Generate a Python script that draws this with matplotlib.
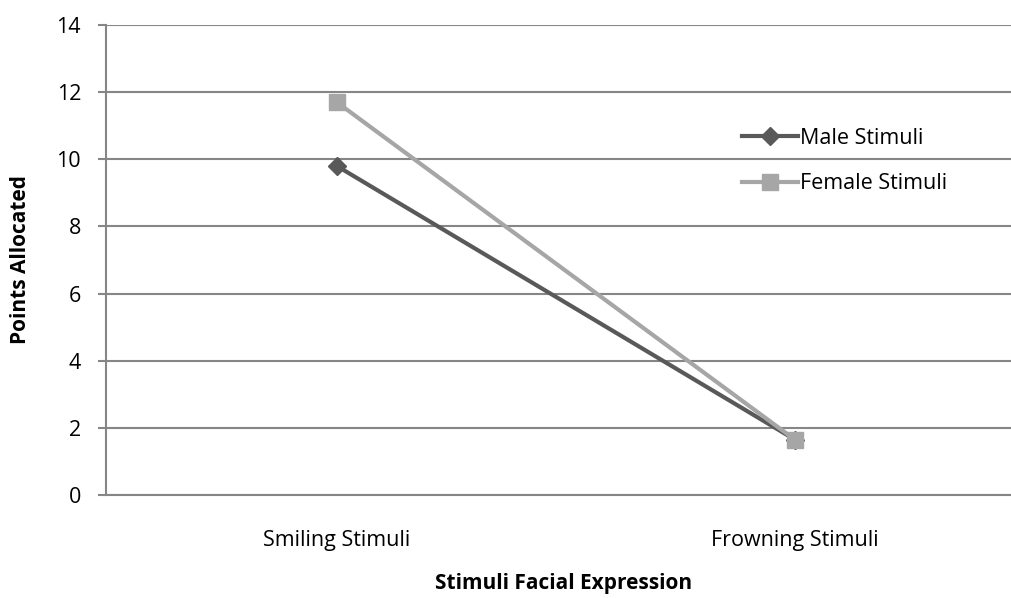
import matplotlib
matplotlib.use("Agg")
import matplotlib.pyplot as plt

categories = ["Smiling Stimuli", "Frowning Stimuli"]
male = [9.8, 1.65]
female = [11.7, 1.65]
yticks = [0, 2, 4, 6, 8, 10, 12, 14]

plt.rcParams['font.family'] = ['Open Sans', 'DejaVu Sans']

W, H = 1012, 598
fig = plt.figure(figsize=(W / 100, H / 100), dpi=100)
left, right, top, bottom = 106, 1012, 25, 495
ax = fig.add_axes([left / W, 1 - bottom / H, (right - left) / W, (bottom - top) / H])

x = list(range(len(categories)))
ax.plot(x, male, color='#595959', lw=3.0, marker='D', markersize=9, label='Male Stimuli', zorder=3)
ax.plot(x, female, color='#A6A6A6', lw=3.0, marker='s', markersize=11, label='Female Stimuli', zorder=3)

FS = 15.5
ax.set_xlim(-0.504, 1.474)
ax.set_ylim(0, 14)
ax.set_yticks(yticks)
ax.set_xticks(x)
ax.set_xticklabels(categories, fontsize=FS)
ax.tick_params(axis='y', labelsize=FS, length=6, width=1.5, color='#868686', pad=12)
ax.tick_params(axis='x', length=0, pad=25)
ax.yaxis.grid(True, color='#868686', lw=1.5)
ax.set_axisbelow(True)
for s in ['top', 'right']:
    ax.spines[s].set_visible(False)
for s in ['left', 'bottom']:
    ax.spines[s].set_color('#868686')
    ax.spines[s].set_linewidth(1.5)

fig.text(21 / W, 1 - 260 / H, 'Points Allocated', rotation=90, fontsize=15, fontweight='bold',
         ha='center', va='center')
fig.text(564 / W, 1 - 584 / H, 'Stimuli Facial Expression', fontsize=15, fontweight='bold',
         ha='center', va='center')

leg = ax.legend(loc='upper left', bbox_to_anchor=((733 - left) / (right - left), (bottom - 119) / (bottom - top)),
                frameon=False, fontsize=FS, handlelength=2.6, handletextpad=0.1, labelspacing=1.15,
                borderaxespad=0)

fig.savefig('out.png', dpi=100)
